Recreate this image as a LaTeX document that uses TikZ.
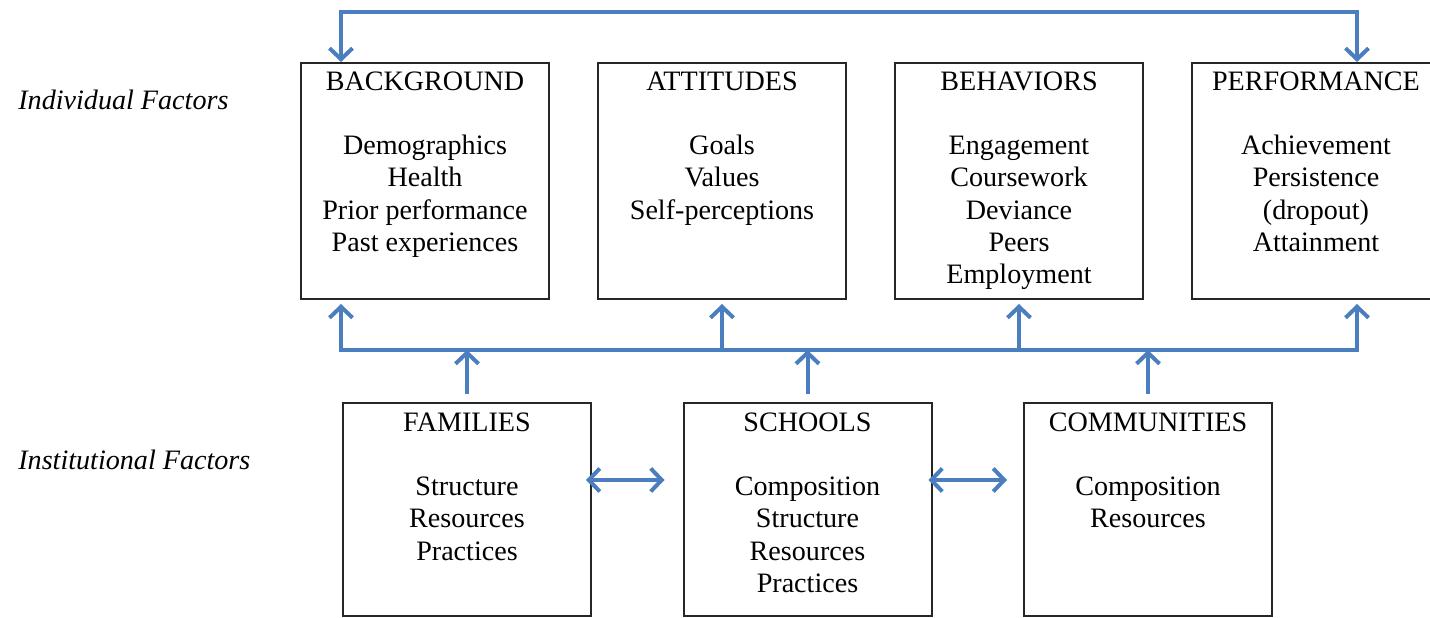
\documentclass[tikz,border=0pt]{standalone}
\usepackage{fontspec}
\setmainfont{Liberation Serif}
\usetikzlibrary{arrows.meta, positioning}

\definecolor{linkblue}{HTML}{4A7EBF}

\begin{document}
\begin{tikzpicture}[
    node distance=0.94cm,
    >={Straight Barb[length=0.22cm, width=0.46cm]},
    factor/.style={rectangle, draw=black!85, line width=0.04cm, inner sep=0pt,
                   minimum width=4.96cm, minimum height=4.72cm},
    institution/.style={factor, minimum height=4.26cm},
    boxtext/.style={align=center, inner sep=0pt, font=\fontsize{16}{18.3}\selectfont},
    side/.style={anchor=west, inner sep=0pt, font=\fontsize{16}{18.3}\selectfont\itshape},
    link/.style={draw=linkblue, line width=0.08cm}
]
\useasboundingbox (0,0) rectangle (28.6,12.36);
\clip (0,0) rectangle (28.6,12.36);

% individual factors
\node[factor] (background) at (8.5,8.74) {};
\node[factor, right=of background] (attitudes) {};
\node[factor, right=of attitudes] (behaviors) {};
\node[factor, right=of behaviors] (performance) {};

\node[boxtext, below=0.19cm of background.north] (background-txt)
    {BACKGROUND\\[18.3pt]Demographics\\Health\\Prior performance\\Past experiences};
\node[boxtext, below=0.19cm of attitudes.north] (attitudes-txt)
    {ATTITUDES\\[18.3pt]Goals\\Values\\Self-perceptions};
\node[boxtext, below=0.19cm of behaviors.north] (behaviors-txt)
    {BEHAVIORS\\[18.3pt]Engagement\\Coursework\\Deviance\\Peers\\Employment};
\node[boxtext, below=0.19cm of performance.north] (performance-txt)
    {PERFORMANCE\\[18.3pt]Achievement\\Persistence\\(dropout)\\Attainment};

% institutional factors
\node[institution] (families) at (9.34,2.17) {};
\node[institution, right=1.81cm of families] (schools) {};
\node[institution, right=1.81cm of schools] (communities) {};

\node[boxtext, below=0.21cm of families.north] (families-txt)
    {FAMILIES\\[18.3pt]Structure\\Resources\\Practices};
\node[boxtext, below=0.21cm of schools.north] (schools-txt)
    {SCHOOLS\\[18.3pt]Composition\\Structure\\Resources\\Practices};
\node[boxtext, below=0.21cm of communities.north] (communities-txt)
    {COMMUNITIES\\[18.3pt]Composition\\Resources};

\node[side] (individual) at (0.36,10.36) {Individual Factors};
\node[side] (institutional) at (0.36,3.16) {Institutional Factors};

% connectors
\coordinate (top-left) at (6.82,12.12);
\coordinate (top-right) at (27.14,12.12);
\coordinate (bus-left) at (6.82,5.36);
\coordinate (bus-right) at (27.14,5.36);

\draw[link, <->] (background.north -| top-left) -- (top-left) -- (top-right)
    -- (performance.north -| top-right);
\draw[link, <->] ([yshift=-0.08cm]background.south -| bus-left) -- (bus-left) -- (bus-right)
    -- ([yshift=-0.08cm]performance.south -| bus-right);
\draw[link, ->] (attitudes.south |- bus-left) -- ([yshift=-0.08cm]attitudes.south);
\draw[link, ->] (behaviors.south |- bus-left) -- ([yshift=-0.08cm]behaviors.south);

\draw[link, ->] ([yshift=0.16cm]families.north) -- (families.north |- bus-left);
\draw[link, ->] ([yshift=0.16cm]schools.north) -- (schools.north |- bus-left);
\draw[link, ->] ([yshift=0.16cm]communities.north) -- (communities.north |- bus-left);

\draw[link, <->] ([xshift=-0.12cm, yshift=0.59cm]families.east)
    -- ([xshift=-0.36cm, yshift=0.59cm]schools.west);
\draw[link, <->] ([xshift=-0.08cm, yshift=0.59cm]schools.east)
    -- ([xshift=-0.32cm, yshift=0.59cm]communities.west);

\end{tikzpicture}
\end{document}
